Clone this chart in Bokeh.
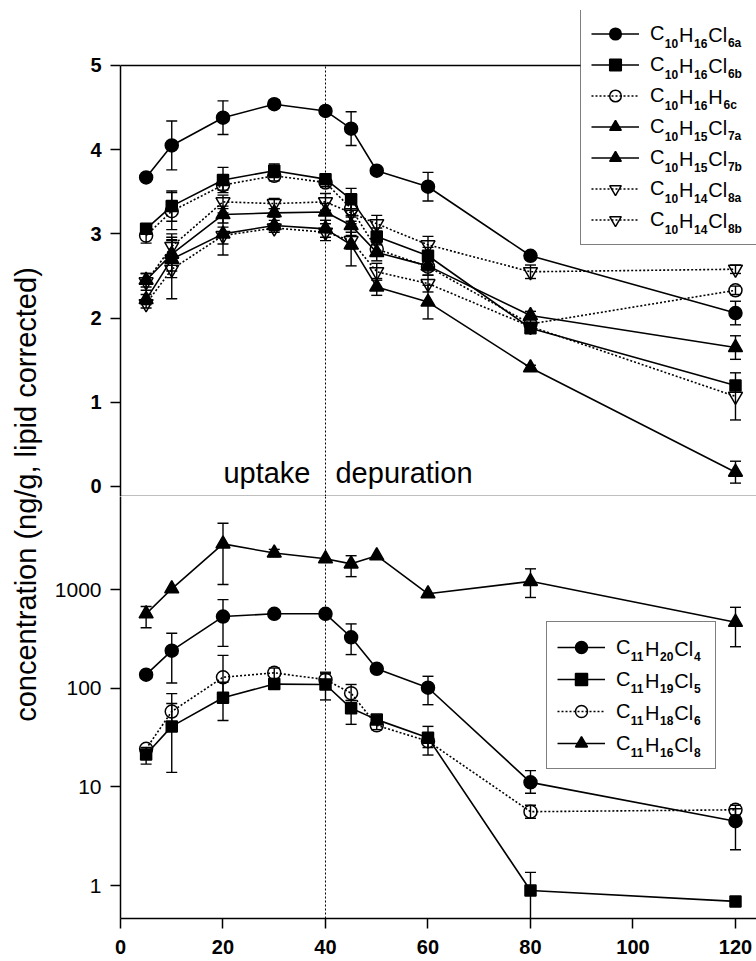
import math
from bokeh.plotting import figure
from bokeh.layouts import row, column
from bokeh.models import (Range1d, FixedTicker, Span, Label, Legend, LegendItem,
                          PrintfTickFormatter)
from bokeh.embed import file_html
from bokeh.resources import INLINE

FONT = "Liberation Sans"

# ---------------- data ----------------
days = [5, 10, 20, 30, 40, 45, 50, 60, 80, 120]
x_ticks = [0, 20, 40, 60, 80, 100, 120]
top_ticks = [0, 1, 2, 3, 4, 5]
log_ticks = [1, 10, 100, 1000]
phase_switch = 40

# top panel (linear), means and +/- errors
c10_6a = [3.67, 4.05, 4.38, 4.54, 4.46, 4.25, 3.75, 3.56, 2.74, 2.06]
c10_6a_err = [0, 0.29, 0.20, 0.05, 0.05, 0.20, 0, 0.17, 0, 0.14]
c10_6b = [3.06, 3.33, 3.64, 3.75, 3.65, 3.41, 2.97, 2.74, 1.88, 1.20]
c10_6b_err = [0.05, 0.18, 0.15, 0.08, 0.05, 0.13, 0.10, 0.10, 0.05, 0.05]
c10_6c = [2.98, 3.27, 3.58, 3.69, 3.61, 3.30, 2.82, 2.61, 1.93, 2.33]
c10_6c_err = [0.09, 0.22, 0.06, 0.06, 0.05, 0.10, 0.08, 0.10, 0.05, 0.05]
c10_7a = [2.45, 2.76, 3.23, 3.25, 3.26, 3.10, 2.78, 2.62, 2.03, 1.65]
c10_7a_err = [0.08, 0.20, 0.10, 0.05, 0.10, 0.12, 0.10, 0.06, 0.05, 0.14]
c10_7b = [2.22, 2.70, 3.00, 3.10, 3.06, 2.87, 2.37, 2.19, 1.41, 0.17]
c10_7b_err = [0.06, 0.22, 0.25, 0.06, 0.10, 0.25, 0.10, 0.20, 0.03, 0.13]
c10_8a = [2.43, 2.85, 3.38, 3.36, 3.38, 3.25, 3.12, 2.87, 2.55, 2.58]
c10_8a_err = [0.10, 0.15, 0.08, 0.06, 0.10, 0.10, 0.10, 0.10, 0.08, 0.05]
c10_8b = [2.17, 2.58, 2.98, 3.07, 3.02, 2.92, 2.55, 2.41, 1.90, 1.07]
c10_8b_err = [0.05, 0.35, 0.10, 0.05, 0.10, 0.10, 0.10, 0.10, 0.05, 0.28]

# bottom panel (log), means and error bounds (None = no visible bar)
c11_4 = [137, 240, 532, 567, 567, 328, 157, 101, 11.1, 4.48]
c11_4_lo = [None, 113, 265, None, None, 219, None, 68, 8.6, 2.3]
c11_4_hi = [None, 360, 790, None, None, 448, None, 132, 14.6, 6.0]
c11_5 = [21.3, 41, 80, 110, 109, 62.5, 48, 31.4, 0.89, 0.69]
c11_5_lo = [17, 14, 47, None, 76, 43, None, 21, 0.3, None]
c11_5_hi = [25, 70, 115, None, 140, 75, None, 41, 1.36, None]
c11_6 = [24.3, 58, 129, 143, 122, 89, 42, 29, 5.6, 5.85]
c11_6_lo = [None, 40, 85, 125, 100, 75, 38, 25, 4.8, 5.2]
c11_6_hi = [None, 88, 215, 160, 145, 109, 46, 33, 6.5, 6.5]
c11_8 = [567, 1017, 2900, 2340, 2050, 1820, 2200, 904, 1210, 465]
c11_8_lo = [410, None, 1125, 2150, None, 1350, None, None, 830, 263]
c11_8_hi = [673, None, 4700, 2550, None, 2200, None, None, 1620, 660]

top_formulas = ["C_{10}H_{16}Cl_{6a}", "C_{10}H_{16}Cl_{6b}", "C_{10}H_{16}H_{6c}",
                "C_{10}H_{15}Cl_{7a}", "C_{10}H_{15}Cl_{7b}", "C_{10}H_{14}Cl_{8a}",
                "C_{10}H_{14}Cl_{8b}"]
bot_formulas = ["C_{11}H_{20}Cl_{4}", "C_{11}H_{19}Cl_{5}", "C_{11}H_{18}Cl_{6}",
                "C_{11}H_{16}Cl_{8}"]

ylabel = "concentration (ng/g, lipid corrected)"

# ---------------- styles ----------------
top_series = [
    (c10_6a, c10_6a_err, "circle", True, "solid"),
    (c10_6b, c10_6b_err, "square", True, "solid"),
    (c10_6c, c10_6c_err, "circle", False, "2 2"),
    (c10_7a, c10_7a_err, "triangle", True, "solid"),
    (c10_7b, c10_7b_err, "triangle", True, "solid"),
    (c10_8a, c10_8a_err, "inverted_triangle", False, "2 2"),
    (c10_8b, c10_8b_err, "inverted_triangle", False, "2 2"),
]
bot_series = [
    (c11_4, c11_4_lo, c11_4_hi, "circle", True, "solid"),
    (c11_5, c11_5_lo, c11_5_hi, "square", True, "solid"),
    (c11_6, c11_6_lo, c11_6_hi, "circle", False, "2 2"),
    (c11_8, c11_8_lo, c11_8_hi, "triangle", True, "solid"),
]
MSIZE = {"circle": 13, "square": 11, "triangle": 14, "inverted_triangle": 14}

# ---------------- layout constants (page pixels) ----------------
LABEL_W = 48
PANEL_W = 708
TOP_H = 496
BOT_H = 465
BORDER_L = 72
FRAME_L = LABEL_W + BORDER_L          # page x of frame left (120)
TOP_FB = 496                          # page y of top frame bottom
BOT_FB = 918                          # page y of bottom frame bottom
X_END = 124.1
PX_PER_DAY = (LABEL_W + PANEL_W - FRAME_L) / X_END

y_top_start, y_top_end = -0.119, 5.653
y_bot_start, y_bot_end = 0.463, 8762

MAIN_PX, SUB_PX = 20, 12


def style_axis(ax, bold=True, size="20px"):
    ax.axis_line_width = 1.5
    ax.axis_line_color = "black"
    ax.major_tick_line_width = 1.5
    ax.major_tick_line_color = "black"
    ax.major_tick_out = 10
    ax.major_tick_in = 0
    ax.minor_tick_line_color = None
    ax.major_label_text_font = FONT
    ax.major_label_text_font_size = size
    ax.major_label_text_font_style = "bold" if bold else "normal"
    ax.major_label_text_color = "black"
    ax.major_label_standoff = 9


def base_fig(height, y_range, y_type, b_top, b_bottom):
    p = figure(width=PANEL_W, height=height, x_range=Range1d(0, X_END), y_range=y_range,
               y_axis_type=y_type, toolbar_location=None, output_backend="svg",
               min_border_left=BORDER_L, min_border_right=0,
               min_border_top=b_top, min_border_bottom=b_bottom)
    p.outline_line_color = None
    p.xgrid.visible = False
    p.ygrid.visible = False
    p.background_fill_color = "white"
    p.border_fill_color = "white"
    return p


def draw_errors(p, lows, highs):
    ex = [x for x, lo in zip(days, lows) if lo is not None]
    elo = [lo for lo in lows if lo is not None]
    ehi = [hi for hi, lo in zip(highs, lows) if lo is not None]
    p.segment(x0=ex, y0=elo, x1=ex, y1=ehi, line_color="black", line_width=1.4)
    p.scatter(x=ex, y=elo, marker="dash", size=11, line_color="black", line_width=1.4)
    p.scatter(x=ex, y=ehi, marker="dash", size=11, line_color="black", line_width=1.4)


def draw_main(p, ys, marker, filled, dash):
    lr = p.line(x=days, y=ys, line_color="black", line_width=1.6, line_dash=dash)
    sr = p.scatter(x=days, y=ys, marker=marker, size=MSIZE[marker],
                   line_color="black", line_width=1.5,
                   fill_color="black" if filled else None)
    return lr, sr


REG_W = {"C": 0.722, "H": 0.722, "l": 0.222}
BOLD_W = {ch: 0.556 for ch in "0123456789ac"}
BOLD_W["b"] = 0.611


def parse(formula):
    pieces, i = [], 0
    while i < len(formula):
        if formula[i] == "_":
            j = formula.index("}", i)
            pieces.append((formula[i + 2:j], True))
            i = j + 1
        else:
            j = i
            while j < len(formula) and formula[j] != "_":
                j += 1
            pieces.append((formula[i:j], False))
            i = j
    return pieces


def piece_width(txt, sub):
    table = BOLD_W if sub else REG_W
    return sum(table.get(c, 0.556) for c in txt) * (SUB_PX if sub else MAIN_PX) + 0.8


def add_formula_rest(p, pieces, page_x, page_cy, frame_bottom):
    sx = page_x - FRAME_L
    for txt, sub in pieces:
        cy = page_cy + (8 if sub else 0)
        p.add_layout(Label(x=sx, y=frame_bottom - cy, x_units="screen", y_units="screen",
                           text=txt, text_font=FONT,
                           text_font_size=f"{SUB_PX if sub else MAIN_PX}px",
                           text_font_style="bold" if sub else "normal",
                           text_color="black", text_align="left",
                           text_baseline="middle"))
        sx += piece_width(txt, sub)


def add_legend(p, renderers, formulas, box_left, box_top, label_w, row_h, spacing,
               frame_bottom):
    pad, gw, stand = 10, 48, 11
    n = len(renderers)
    h = 2 * pad + n * row_h + (n - 1) * spacing
    parsed = [parse(f) for f in formulas]
    items = [LegendItem(label=pc[0][0], renderers=list(r)) for r, pc in zip(renderers, parsed)]
    leg = Legend(items=items, location=(box_left - FRAME_L, frame_bottom - (box_top + h)),
                 orientation="vertical", glyph_width=gw, glyph_height=row_h,
                 label_height=row_h, label_width=label_w, label_standoff=stand,
                 spacing=spacing, padding=pad, margin=0,
                 border_line_color="black", border_line_width=1.5,
                 background_fill_alpha=0.0,
                 label_text_font=FONT, label_text_font_size=f"{MAIN_PX}px",
                 label_text_color="black", label_text_baseline="middle")
    p.add_layout(leg)
    text_x = box_left + pad + gw + stand
    for i, pc in enumerate(parsed):
        cy = box_top + pad + row_h / 2 + i * (row_h + spacing)
        add_formula_rest(p, pc[1:], text_x + piece_width(*pc[0]), cy, frame_bottom)
    return box_left


# ---------------- top panel ----------------
p1 = base_fig(TOP_H, Range1d(y_top_start, y_top_end), "linear", 10, 0)
style_axis(p1.yaxis[0], bold=True, size="20px")
p1.yaxis[0].ticker = FixedTicker(ticks=top_ticks)
p1.yaxis[0].bounds = (y_top_start, top_ticks[-1])
xa = p1.xaxis[0]
xa.ticker = FixedTicker(ticks=[])
xa.axis_line_width = 1.5
xa.major_tick_line_color = None
xa.minor_tick_line_color = None
xa.major_tick_out = 0
xa.major_tick_in = 0
xa.major_label_standoff = 0

p1.segment(x0=[phase_switch], y0=[y_top_start], x1=[phase_switch], y1=[top_ticks[-1]],
           line_color="black", line_width=1, line_dash="2 2")

for ys, err, m, f, d in top_series:
    draw_errors(p1, [v - e if e > 0 else None for v, e in zip(ys, err)],
                [v + e for v, e in zip(ys, err)])
top_r = [draw_main(p1, ys, m, f, d) for ys, err, m, f, d in top_series]

p1.add_layout(Label(x=phase_switch, y=0.16, x_offset=-15, text="uptake", text_font=FONT,
                    text_font_size="29px", text_align="right", text_baseline="alphabetic",
                    text_color="black"))
p1.add_layout(Label(x=phase_switch, y=0.16, x_offset=10, text="depuration", text_font=FONT,
                    text_font_size="29px", text_align="left", text_baseline="alphabetic",
                    text_color="black"))

leg_left = add_legend(p1, top_r, top_formulas, box_left=580, box_top=10, label_w=96,
                      row_h=29, spacing=2, frame_bottom=TOP_FB)
# top frame line, running up to the legend box
p1.segment(x0=[0], y0=[top_ticks[-1]], x1=[(leg_left - FRAME_L) / PX_PER_DAY],
           y1=[top_ticks[-1]], line_color="black", line_width=1.5)

# ---------------- bottom panel ----------------
p2 = base_fig(BOT_H, Range1d(y_bot_start, y_bot_end), "log", 0, 43)
style_axis(p2.yaxis[0], bold=False, size="21px")
p2.yaxis[0].ticker = FixedTicker(ticks=log_ticks)
p2.yaxis[0].formatter = PrintfTickFormatter(format="%d")
style_axis(p2.xaxis[0], bold=True, size="20px")
p2.xaxis[0].ticker = FixedTicker(ticks=x_ticks)
p2.xaxis[0].major_label_standoff = 11

p2.add_layout(Span(location=phase_switch, dimension="height",
                   line_color="black", line_width=1, line_dash="2 2"))

for ys, lo, hi, m, f, d in bot_series:
    draw_errors(p2, lo, hi)
bot_r = [draw_main(p2, ys, m, f, d) for ys, lo, hi, m, f, d in bot_series]

add_legend(p2, bot_r, bot_formulas, box_left=546, box_top=623, label_w=89, row_h=30,
           spacing=2, frame_bottom=BOT_FB)

# ---------------- shared y label ----------------
p0 = figure(width=LABEL_W, height=TOP_H + BOT_H, x_range=Range1d(0, 1), y_range=Range1d(0, 1),
            toolbar_location=None, output_backend="svg", min_border=0,
            x_axis_location=None, y_axis_location=None)
p0.outline_line_color = None
p0.xgrid.visible = False
p0.ygrid.visible = False
p0.add_layout(Label(x=25, y=(TOP_H + BOT_H) - 494, x_units="screen", y_units="screen",
                    text=ylabel, angle=math.pi / 2, text_font=FONT, text_font_size="29px",
                    text_align="center", text_baseline="middle", text_color="black"))

layout = row(p0, column(p1, p2))
open("out.html", "w").write(file_html(layout, INLINE))
